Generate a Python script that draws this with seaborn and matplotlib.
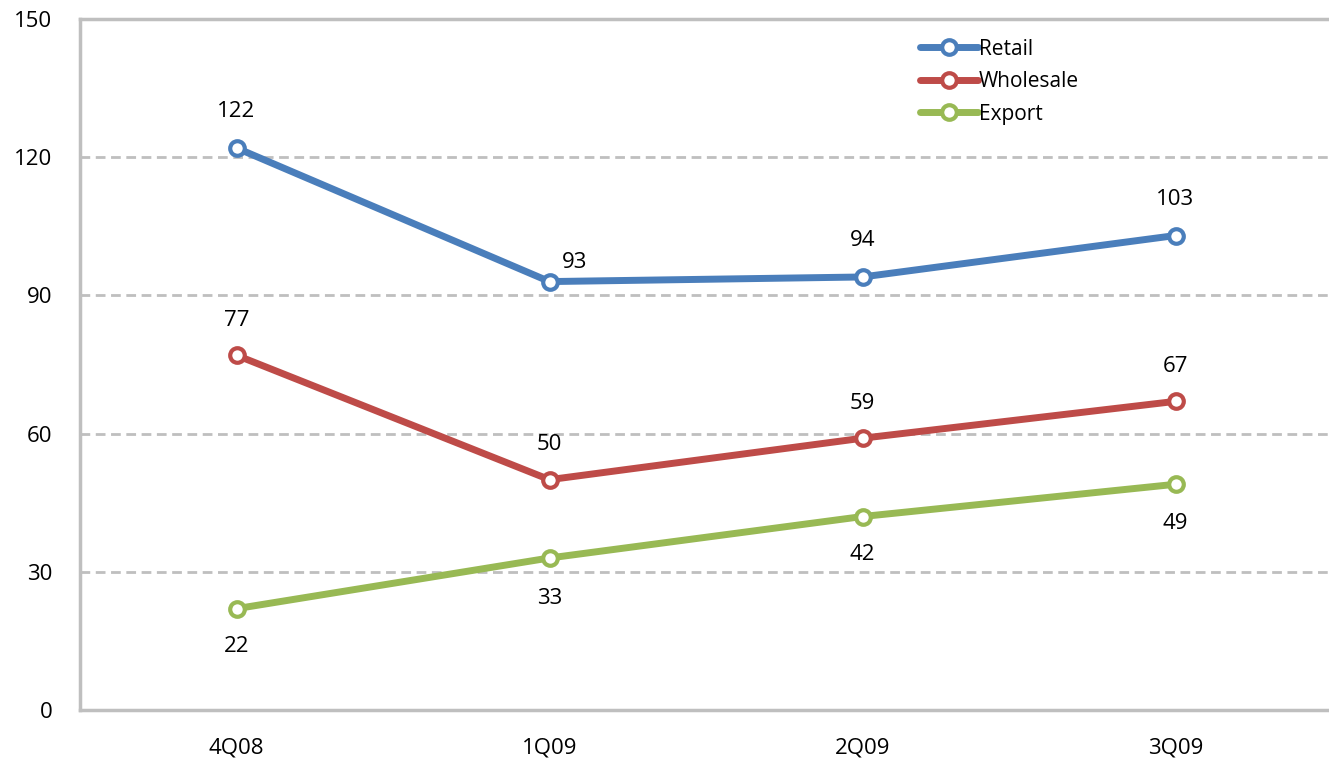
import matplotlib
matplotlib.use("Agg")
import matplotlib.pyplot as plt
import seaborn as sns
import pandas as pd
from matplotlib.lines import Line2D

quarters = ["4Q08", "1Q09", "2Q09", "3Q09"]
retail = [122, 93, 94, 103]
wholesale = [77, 50, 59, 67]
export = [22, 33, 42, 49]
series_names = ["Retail", "Wholesale", "Export"]
colors = ["#4a7ebb", "#be4b48", "#98b954"]
y_ticks = [0, 30, 60, 90, 120, 150]

sns.set_theme(style="white")
plt.rcParams["font.family"] = ["Open Sans", "DejaVu Sans"]
plt.rcParams["text.color"] = "black"
plt.rcParams["xtick.color"] = "black"
plt.rcParams["ytick.color"] = "black"

rows = []
for name, vals in zip(series_names, [retail, wholesale, export]):
    for i, (q, v) in enumerate(zip(quarters, vals)):
        rows.append({"quarter": q, "pos": i, "value": v, "series": name})
df = pd.DataFrame(rows)

fig = plt.figure(figsize=(13.29, 7.65), dpi=100)
ax = fig.add_axes([80 / 1329, 1 - 710 / 765, 1252 / 1329, 691 / 765])

sns.lineplot(data=df, x="pos", y="value", hue="series", hue_order=series_names,
             palette=colors, linewidth=5, marker="o", markersize=10.5,
             markerfacecolor="white", markeredgewidth=3, ax=ax, legend=False)
for line, c in zip(ax.get_lines(), colors):
    line.set_markeredgecolor(c)

# value labels: Retail and Wholesale above, Export below
label_offsets = {
    "Retail": [(0, 26), (18, 14), (0, 26), (0, 26)],
    "Wholesale": [(0, 25), (0, 25), (0, 25), (0, 25)],
    "Export": [(0, -27), (0, -29), (0, -27), (0, -28)],
}
for name, vals in zip(series_names, [retail, wholesale, export]):
    for i, v in enumerate(vals):
        ax.annotate(str(v), (i, v), xytext=label_offsets[name][i], textcoords="offset points",
                    ha="center", va="center", fontsize=16, color="black")

ax.set_xlim(-0.5, 3.5)
ax.set_ylim(0, 150)
ax.set_yticks(y_ticks)
ax.set_yticklabels([str(t) for t in y_ticks], fontsize=16)
ax.set_xticks(range(len(quarters)))
ax.set_xticklabels(quarters, fontsize=16)
ax.tick_params(axis="both", length=0, labelcolor="black")
ax.tick_params(axis="y", pad=20)
ax.tick_params(axis="x", pad=20)
ax.set_xlabel("")
ax.set_ylabel("")

for y in y_ticks[1:-1]:
    ax.axhline(y, color="#bfbfbf", linestyle=(0, (3.5, 2)), linewidth=2, zorder=0)

for side in ["left", "bottom", "top"]:
    ax.spines[side].set_color("#bfbfbf")
    ax.spines[side].set_linewidth(2.5)
ax.spines["right"].set_visible(False)

handles = [Line2D([0], [0], color=c, linewidth=5, marker="o", markersize=10.5,
                  markerfacecolor="white", markeredgecolor=c, markeredgewidth=3)
           for c in colors]
leg = ax.legend(handles, series_names, loc="upper left",
                bbox_to_anchor=((901 - 80) / 1252, 1 - 1 / 691),
                frameon=False, fontsize=15, handlelength=2.8, handletextpad=0.05,
                labelspacing=0.55)
for t in leg.get_texts():
    t.set_color("black")

fig.savefig("out.png", dpi=100)
